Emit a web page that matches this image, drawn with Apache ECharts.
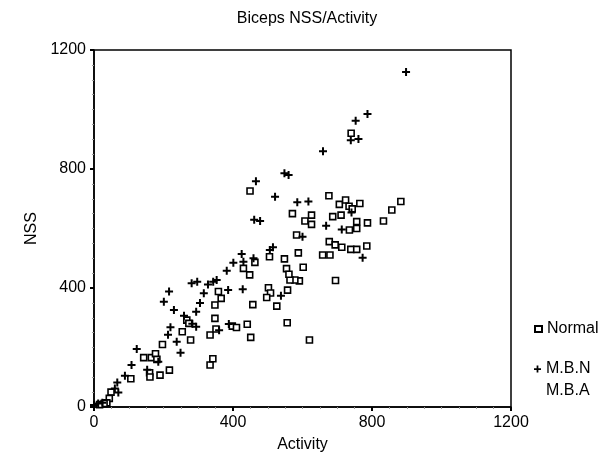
<!DOCTYPE html>
<html>
<head>
<meta charset="utf-8">
<title>Biceps NSS/Activity</title>
<script src="https://cdn.jsdelivr.net/npm/echarts@6/dist/echarts.min.js"></script>
<style>
    html, body { margin: 0; padding: 0; background: #fff; }
    #chart { width: 607px; height: 466px; }
</style>
</head>
<body>
<div id="chart"></div>
<script>
// points: [Activity, NSS]
var normalPoints = [
    [740, 920], [449, 726], [571, 650], [583, 578], [676, 710], [706, 681], [724, 696],
    [734, 675], [743, 666], [765, 684], [883, 691], [857, 662], [607, 625], [626, 645],
    [626, 614], [687, 640], [711, 645], [735, 595], [756, 623], [756, 600], [787, 619],
    [833, 625], [677, 556], [694, 545], [713, 537], [739, 530], [756, 530], [785, 541],
    [658, 511], [679, 511], [602, 470], [695, 425], [588, 518], [591, 424], [578, 427],
    [564, 427], [620, 225], [554, 465], [561, 446], [548, 498], [557, 393], [502, 401],
    [508, 383], [497, 368], [526, 339], [556, 283], [505, 505], [463, 486], [430, 466],
    [448, 444], [457, 344], [441, 278], [451, 234], [398, 272], [410, 267], [348, 298],
    [334, 242], [351, 262], [334, 141], [342, 162], [358, 388], [366, 365], [348, 343],
    [254, 253], [278, 225], [267, 292], [273, 281], [197, 210], [143, 166], [165, 166],
    [177, 179], [181, 160], [160, 115], [161, 101], [190, 107], [217, 124], [106, 95],
    [49, 50], [44, 29], [37, 14], [29, 12], [16, 8]
];
var mbnPoints = [
    [898, 1126], [787, 985], [753, 962], [739, 897], [761, 901], [659, 860], [548, 786],
    [560, 780], [466, 759], [521, 707], [585, 688], [617, 691], [461, 629], [478, 625],
    [668, 609], [713, 597], [600, 572], [773, 502], [741, 654], [506, 528], [515, 537],
    [459, 500], [425, 514], [430, 488], [401, 485], [382, 458], [386, 393], [428, 396],
    [388, 279], [360, 258], [538, 374], [343, 421], [353, 427], [281, 416], [297, 421],
    [328, 412], [316, 382], [305, 350], [294, 320], [259, 307], [283, 280], [294, 270],
    [213, 243], [220, 268], [238, 219], [249, 182], [216, 388], [201, 354], [230, 326],
    [123, 195], [108, 141], [89, 105], [153, 125], [185, 152], [67, 82], [60, 62],
    [70, 49], [0, 7], [12, 12], [24, 14]
];
var mbaPoints = [];
var axisTicks = [0, 400, 800, 1200];

var font = "'Liberation Sans Narrow', 'Liberation Sans', Arial, sans-serif";
var plusPath = 'path://M3,0h2v3h3v2h-3v3h-2v-3h-3v-2h3z';

var myChart = echarts.init(document.getElementById('chart'));

var axisBase = {
    type: 'value',
    min: axisTicks[0],
    max: axisTicks[axisTicks.length - 1],
    interval: axisTicks[1] - axisTicks[0],
    nameLocation: 'middle',
    nameTextStyle: { color: '#000', fontSize: 16, fontFamily: font },
    axisLine: { show: true, lineStyle: { color: '#000', width: 1.5 } },
    axisTick: { show: true, length: 4, lineStyle: { color: '#000', width: 2 } },
    minorTick: { show: true, splitNumber: 8, length: 2, lineStyle: { color: '#999' } },
    axisLabel: {
        color: '#000', fontSize: 16, fontFamily: font,
        formatter: function (v) { return String(v); }
    },
    splitLine: { show: false }
};

var option = {
    animation: false,
    backgroundColor: '#fff',
    title: {
        text: 'Biceps NSS/Activity',
        left: 302,
        textAlign: 'center',
        top: 6,
        textStyle: { color: '#000', fontSize: 16, fontWeight: 'normal', fontFamily: font }
    },
    grid: {
        left: 94, right: 96, top: 50, bottom: 59,
        show: true, borderColor: '#000', borderWidth: 1.5, backgroundColor: 'transparent'
    },
    legend: [{
        orient: 'vertical',
        left: 529,
        top: 316,
        itemWidth: 7,
        itemHeight: 6,
        itemGap: 8,
        textStyle: { color: '#000', fontSize: 16, fontFamily: font },
        data: ['Normal']
    }, {
        orient: 'vertical',
        left: 529,
        top: 356,
        itemWidth: 7,
        itemHeight: 8,
        itemGap: 6,
        textStyle: { color: '#000', fontSize: 16, fontFamily: font },
        data: ['M.B.N', 'M.B.A']
    }],
    xAxis: Object.assign({}, axisBase, { name: 'Activity', nameGap: 30 }),
    yAxis: Object.assign({}, axisBase, { name: 'NSS', nameGap: 50 }),
    series: [{
        name: 'Normal',
        type: 'scatter',
        symbol: 'rect',
        symbolSize: 6,
        itemStyle: { color: '#fff', borderColor: '#000', borderWidth: 1.6, opacity: 1 },
        data: normalPoints
    }, {
        name: 'M.B.N',
        type: 'scatter',
        symbol: plusPath,
        symbolSize: 8,
        itemStyle: { color: '#000', opacity: 1 },
        data: mbnPoints
    }, {
        name: 'M.B.A',
        type: 'scatter',
        symbol: 'none',
        itemStyle: { color: '#000' },
        data: mbaPoints
    }]
};

myChart.setOption(option);
</script>
</body>
</html>
